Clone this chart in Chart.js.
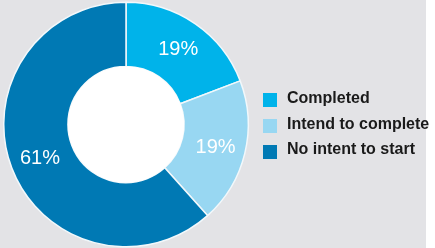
<!DOCTYPE html>
<html>
<head>
<meta charset="utf-8">
<script src="https://cdn.jsdelivr.net/npm/chart.js@4/dist/chart.umd.min.js"></script>
<style>
  html, body { margin: 0; padding: 0; background: #fff; }
  #wrap { position: relative; width: 435px; height: 248px; }
</style>
</head>
<body>
<div id="wrap"><canvas id="chart" width="435" height="248"></canvas></div>
<script>
// data
const categories = ['Completed', 'Intend to complete', 'No intent to start'];
const shares = [19, 19, 61];
const sliceColors = ['#00b3ea', '#98d7f2', '#0079b4'];

// grey panel + white hole
const panelBg = {
  id: 'panelBg',
  beforeDraw(chart) {
    const c = chart.ctx;
    c.save();
    c.fillStyle = '#e3e3e6';
    c.fillRect(0, 0, 426, chart.height);
    c.restore();
  },
  afterDatasetsDraw(chart) {
    const arc = chart.getDatasetMeta(0).data[0];
    const c = chart.ctx;
    c.save();
    c.fillStyle = '#ffffff';
    c.beginPath();
    c.arc(arc.x, arc.y, arc.innerRadius, 0, Math.PI * 2);
    c.fill();
    c.restore();
  }
};

// percent labels in each slice
const sliceLabels = {
  id: 'sliceLabels',
  afterDatasetsDraw(chart) {
    const c = chart.ctx;
    const meta = chart.getDatasetMeta(0);
    c.save();
    c.fillStyle = '#ffffff';
    c.font = '20px "Liberation Sans", Arial, sans-serif';
    c.textAlign = 'center';
    c.textBaseline = 'middle';
    meta.data.forEach((arc, i) => {
      const mid = (arc.startAngle + arc.endAngle) / 2;
      const r = (arc.innerRadius + arc.outerRadius) / 2 + 2;
      c.fillText(shares[i] + '%', arc.x + Math.cos(mid) * r, arc.y + Math.sin(mid) * r + 1);
    });
    c.restore();
  }
};

// legend on the right
const sideLegend = {
  id: 'sideLegend',
  afterDraw(chart) {
    const c = chart.ctx;
    c.save();
    c.font = 'bold 16px "Liberation Sans", Arial, sans-serif';
    c.textBaseline = 'middle';
    categories.forEach((name, i) => {
      const y = 99 + i * 25.5;
      c.fillStyle = sliceColors[i];
      c.fillRect(263, y - 6 + i * 0.5, 14, 14);
      c.fillStyle = '#1a1a1a';
      c.fillText(name, 287, y);
    });
    c.restore();
  }
};

new Chart(document.getElementById('chart'), {
  type: 'doughnut',
  data: {
    labels: categories,
    datasets: [{
      data: shares,
      backgroundColor: sliceColors,
      borderColor: '#f2f8fb',
      borderWidth: 1.5
    }]
  },
  options: {
    responsive: false,
    animation: false,
    cutout: '47.5%',
    layout: { padding: { left: 3, top: 1, bottom: 0, right: 186 } },
    plugins: {
      legend: { display: false },
      tooltip: { enabled: false }
    }
  },
  plugins: [panelBg, sliceLabels, sideLegend]
});
</script>
</body>
</html>
